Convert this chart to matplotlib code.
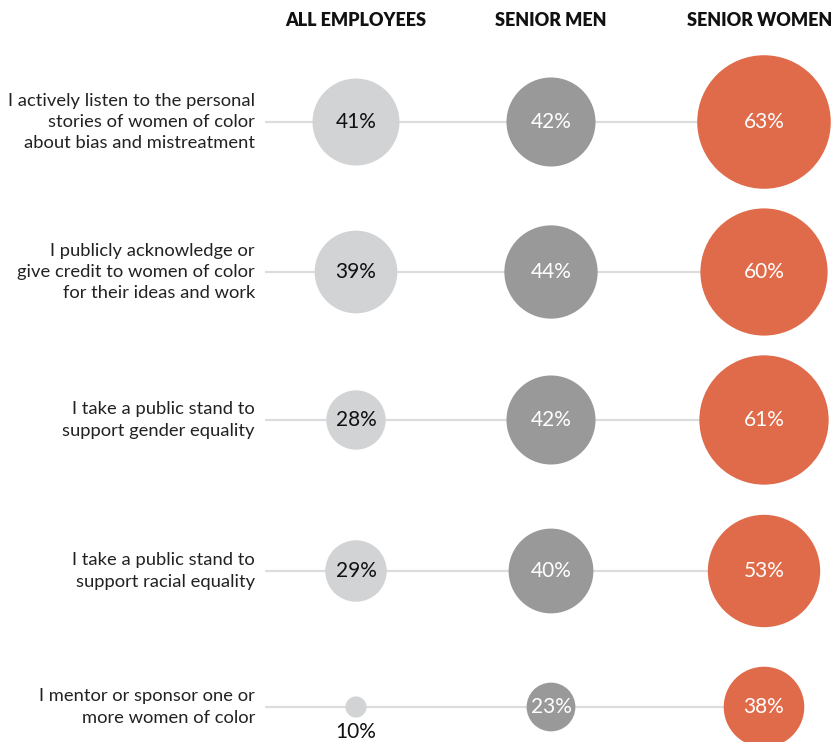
import matplotlib
matplotlib.use("Agg")
import matplotlib.pyplot as plt

plt.rcParams['font.family'] = ['Lato', 'DejaVu Sans']

columns = ["ALL EMPLOYEES", "SENIOR MEN", "SENIOR WOMEN"]
statements = [
    "I actively listen to the personal\nstories of women of color\nabout bias and mistreatment",
    "I publicly acknowledge or\ngive credit to women of color\nfor their ideas and work",
    "I take a public stand to\nsupport gender equality",
    "I take a public stand to\nsupport racial equality",
    "I mentor or sponsor one or\nmore women of color",
]
all_employees = [41, 39, 28, 29, 10]
senior_men = [42, 44, 42, 40, 23]
senior_women = [63, 60, 61, 53, 38]
series = [all_employees, senior_men, senior_women]

# layout (pixels)
W, H = 834, 742
col_x = [356, 551, 764]
row_y = [122, 272, 420, 571, 707]
colors = ["#d1d3d4", "#999999", "#e06b4a"]
text_colors = ["#111111", "#ffffff", "#ffffff"]
px_per_pct = 1.06  # circle radius in px per percentage point

fig = plt.figure(figsize=(W / 100, H / 100), dpi=100)
ax = fig.add_axes([0, 0, 1, 1])
ax.set_xlim(0, W)
ax.set_ylim(H, 0)
ax.axis("off")

for i, y in enumerate(row_y):
    ax.plot([265, col_x[-1]], [y, y], color="#dddddd", lw=1.6, zorder=1,
            solid_capstyle="butt")
    ax.text(255, y, statements[i], ha="right", va="center", fontsize=13.2,
            color="#222222", linespacing=1.42)

for j, vals in enumerate(series):
    for i, v in enumerate(vals):
        r_px = px_per_pct * v
        d_pt = 2 * r_px * 0.72
        ax.scatter([col_x[j]], [row_y[i]], s=d_pt ** 2, color=colors[j],
                   edgecolors="none", zorder=2)
        label = f"{v}%"
        if r_px < 18:
            ax.text(col_x[j], row_y[i] + 25, label, ha="center", va="center",
                    fontsize=15, color="#111111", zorder=3)
        else:
            ax.text(col_x[j], row_y[i], label, ha="center", va="center",
                    fontsize=15, color=text_colors[j], zorder=3)

for j, name in enumerate(columns):
    if j == len(columns) - 1:
        ax.text(W - 2, 20, name, ha="right", va="center", fontsize=13,
                fontweight="heavy", color="#111111")
    else:
        ax.text(col_x[j], 20, name, ha="center", va="center", fontsize=13,
                fontweight="heavy", color="#111111")

fig.savefig("out.png", dpi=100)
